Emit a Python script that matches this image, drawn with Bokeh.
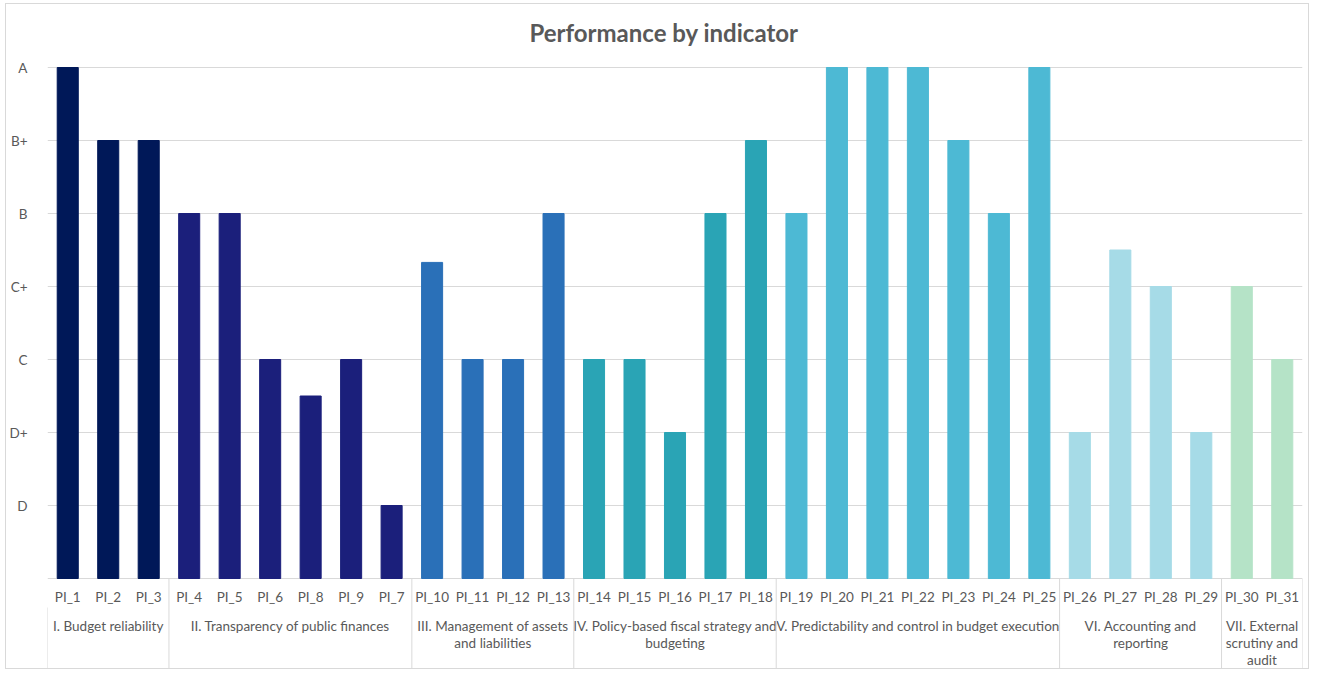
from bokeh.plotting import figure
from bokeh.models import Range1d, FixedTicker, ColumnDataSource
from bokeh.core.properties import value
from bokeh.embed import file_html
from bokeh.resources import INLINE
import numpy as np

# ---------------- data ----------------
title_text = "Performance by indicator"
indicators = ["PI_1", "PI_2", "PI_3", "PI_4", "PI_5", "PI_6", "PI_8", "PI_9", "PI_7",
              "PI_10", "PI_11", "PI_12", "PI_13", "PI_14", "PI_15", "PI_16", "PI_17",
              "PI_18", "PI_19", "PI_20", "PI_21", "PI_22", "PI_23", "PI_24", "PI_25",
              "PI_26", "PI_27", "PI_28", "PI_29", "PI_30", "PI_31"]
scores = [7, 6, 6, 5, 5, 3, 2.5, 3, 1, 4.33, 3, 3, 5, 3, 3, 2, 5, 6,
          5, 7, 7, 7, 6, 5, 7, 2, 4.5, 4, 2, 4, 3]
pillar_names = ["I. Budget reliability",
                "II. Transparency of public finances",
                "III. Management of assets\nand liabilities",
                "IV. Policy-based fiscal strategy and\nbudgeting",
                "V. Predictability and control in budget execution",
                "VI. Accounting and\nreporting",
                "VII. External\nscrutiny and\naudit"]
pillar_sizes = [3, 6, 4, 5, 7, 4, 2]
grade_values = [0, 1, 2, 3, 4, 5, 6, 7]
grade_labels = ["", "D", "D+", "C", "C+", "B", "B+", "A"]

# ---------------- styles ----------------
pillar_colors = ["#001858", "#1B1F7B", "#2A70B8", "#2AA4B5", "#4DB9D4", "#A6DBE7", "#B5E3C7"]
FONT = "Lato"
TXT = "#595959"
GRID = "#D9D9D9"
W, H = 1304, 666
LEFT, RIGHT, TOP, BOTTOM = 41, 8, 63, 2
PX = 73.0  # pixels per grade step
y_top = 7 + TOP / PX
y_bottom = -(H - TOP - BOTTOM - 7 * PX) / PX
n = len(indicators)
px_per_cat = (W - LEFT - RIGHT) / n

bar_colors = []
for c, k in zip(pillar_colors, pillar_sizes):
    bar_colors += [c] * k
xs = np.arange(n) + 0.5

p = figure(width=W, height=H, output_backend="svg", toolbar_location=None,
           x_range=Range1d(0, n), y_range=Range1d(y_bottom, y_top),
           x_axis_location=None, min_border_left=LEFT, min_border_right=RIGHT,
           min_border_top=0, min_border_bottom=BOTTOM)
p.styles = {"border": "1px solid #D9D9D9", "margin-left": "5px", "margin-top": "3px"}
p.outline_line_color = None
p.xgrid.visible = False
p.ygrid.ticker = FixedTicker(ticks=grade_values)
p.ygrid.grid_line_color = GRID
p.yaxis.ticker = FixedTicker(ticks=grade_values)
p.yaxis.major_label_overrides = {v: l for v, l in zip(grade_values, grade_labels)}
p.yaxis.axis_line_color = None
p.yaxis.major_tick_line_color = None
p.yaxis.minor_tick_line_color = None
p.yaxis.major_label_standoff = 14
p.yaxis.major_label_text_font = FONT
p.yaxis.major_label_text_font_size = "13.5px"
p.yaxis.major_label_text_color = TXT

# title, above the top grade line
p.text(x=[n / 2 - 11 / px_per_cat], y=[7 + 35 / PX], text=[title_text],
       text_font=value(FONT), text_font_size="24px", text_font_style="bold",
       text_color=TXT, text_align="center", text_baseline="middle")

src = ColumnDataSource(dict(x=xs, top=scores, color=bar_colors, name=indicators))
p.vbar(x="x", top="top", bottom=0, width=0.52, color="color", source=src)

# indicator labels under baseline
p.text(x=xs, y=[-18 / PX] * n, text=indicators, text_font=value(FONT),
       text_font_size="13.5px", text_color=TXT, text_align="center",
       text_baseline="middle")

# pillar labels and separators
bounds = np.concatenate([[0], np.cumsum(pillar_sizes)])
gx, gy, gt = [], [], []
for i, name in enumerate(pillar_names):
    cx = (bounds[i] + bounds[i + 1]) / 2
    for k, line in enumerate(name.split("\n")):
        gx.append(cx)
        gy.append(-(47 + 17 * k) / PX)
        gt.append(line)
p.text(x=gx, y=gy, text=gt, text_font=value(FONT), text_font_size="13.5px",
       text_color=TXT, text_align="center", text_baseline="middle")

y0s = [0.0] * len(bounds)
y0s[0] = -29 / PX
p.segment(x0=bounds, y0=y0s, x1=bounds, y1=[-90 / PX] * len(bounds),
          line_color=GRID, line_width=1)

open("out.html", "w").write(file_html(p, INLINE))
